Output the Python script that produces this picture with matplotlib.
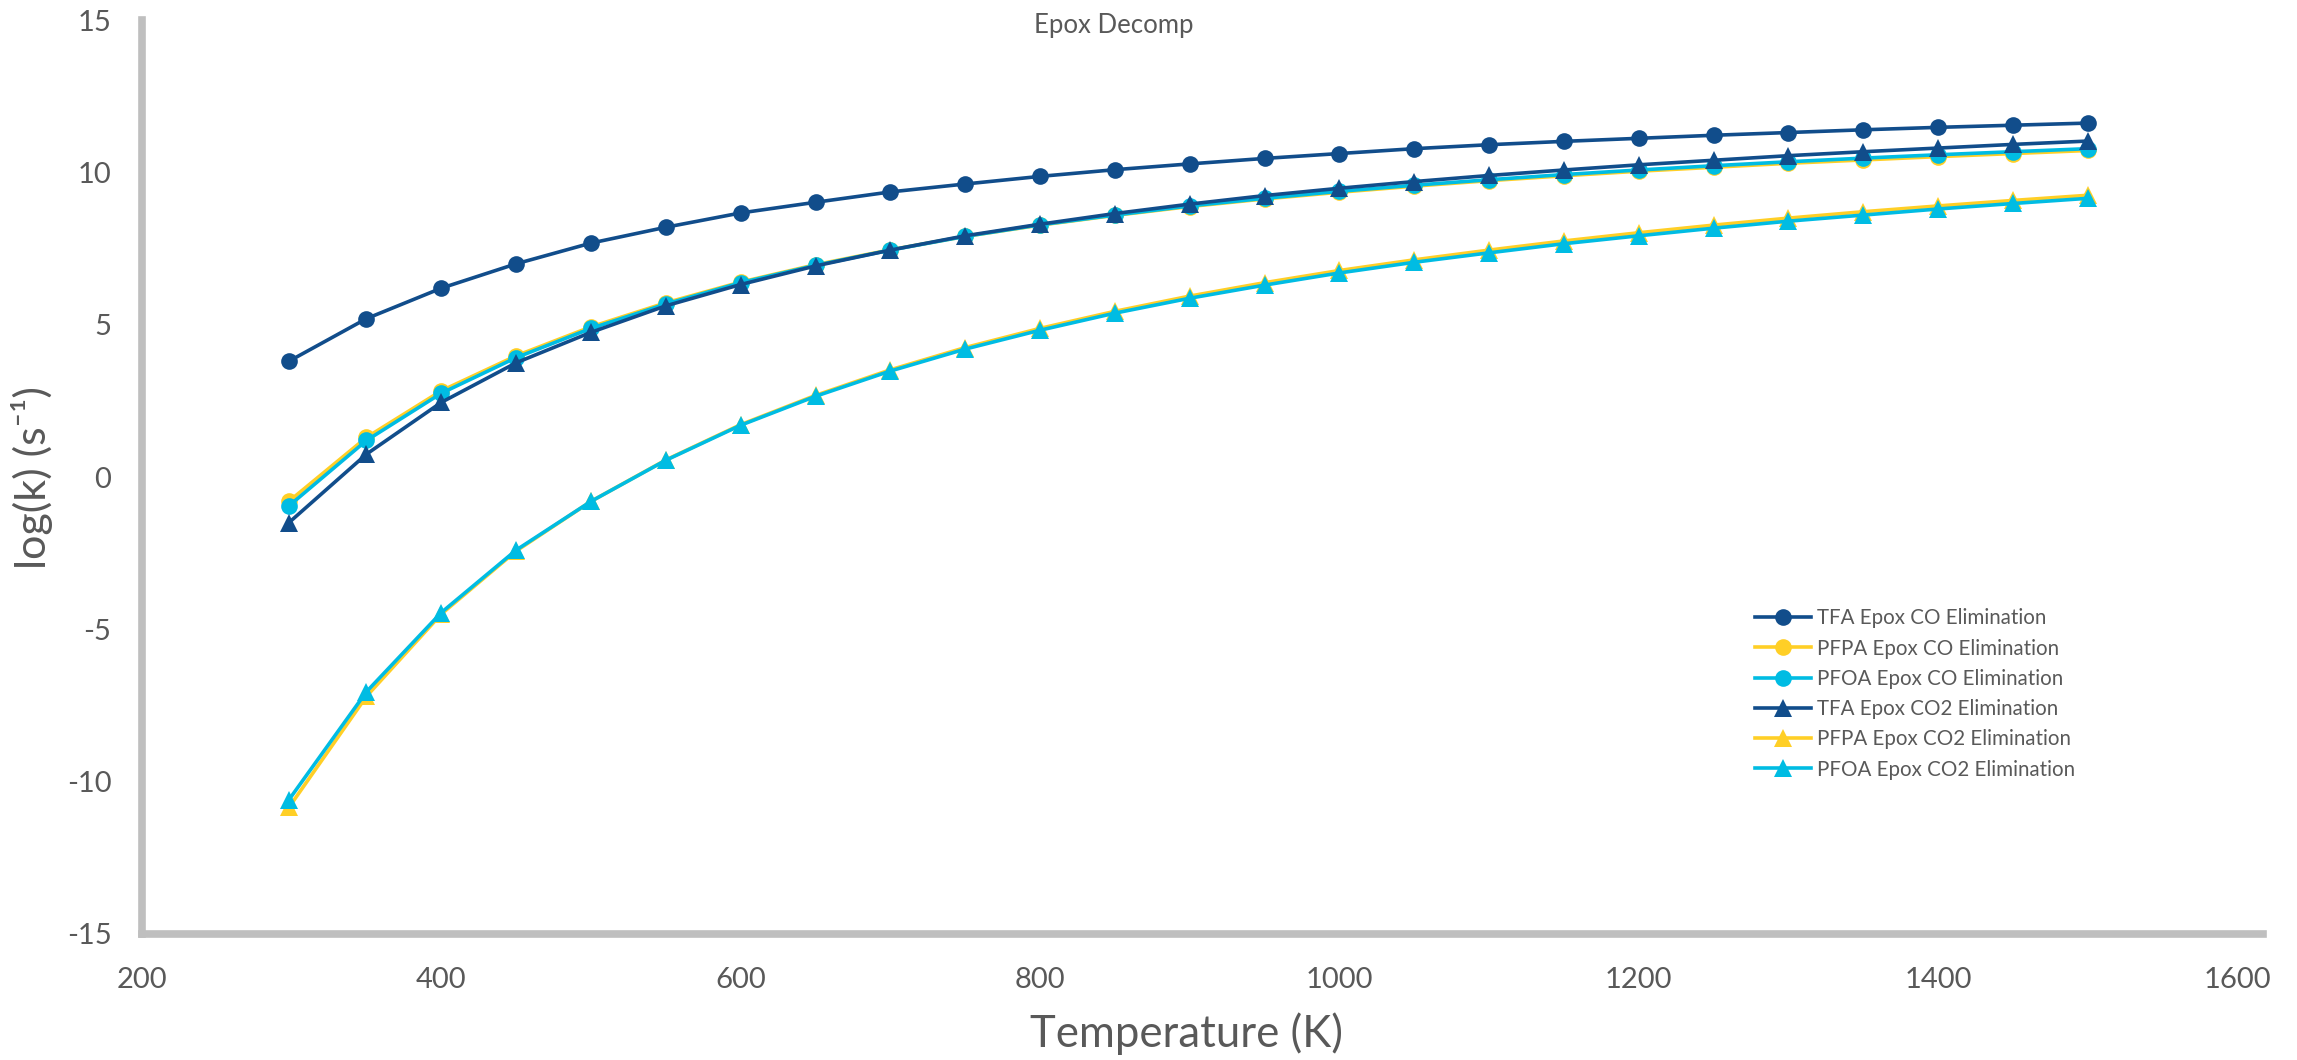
import matplotlib
matplotlib.use("Agg")
import matplotlib.pyplot as plt

# temperatures (K)
temps = [298.15, 350, 400, 450, 500, 550, 600, 650, 700, 750, 800, 850, 900,
         950, 1000, 1050, 1100, 1150, 1200, 1250, 1300, 1350, 1400, 1450, 1500]

# log(k)
tfa_co = [3.8, 5.2, 6.2, 7.0, 7.68, 8.2, 8.67, 9.02, 9.36, 9.62, 9.87, 10.09, 10.28,
          10.46, 10.62, 10.78, 10.91, 11.02, 11.12, 11.22, 11.31, 11.40, 11.48, 11.55, 11.62]
pfpa_co = [-0.8, 1.3, 2.83, 3.98, 4.93, 5.72, 6.4, 6.97, 7.46, 7.9, 8.27, 8.59, 8.88,
           9.13, 9.35, 9.55, 9.73, 9.89, 10.04, 10.17, 10.3, 10.41, 10.52, 10.62, 10.72]
pfoa_co = [-0.95, 1.2, 2.75, 3.92, 4.88, 5.68, 6.38, 6.95, 7.45, 7.9, 8.28, 8.6, 8.9,
           9.15, 9.38, 9.58, 9.76, 9.93, 10.08, 10.22, 10.35, 10.47, 10.58, 10.68, 10.78]
tfa_co2 = [-1.5, 0.75, 2.45, 3.75, 4.75, 5.62, 6.32, 6.93, 7.45, 7.92, 8.3, 8.65, 8.96,
           9.24, 9.48, 9.7, 9.9, 10.08, 10.25, 10.4, 10.55, 10.68, 10.8, 10.92, 11.03]
pfpa_co2 = [-10.85, -7.2, -4.5, -2.43, -0.8, 0.56, 1.72, 2.68, 3.52, 4.25, 4.88, 5.44, 5.94,
            6.38, 6.78, 7.13, 7.45, 7.75, 8.02, 8.27, 8.5, 8.71, 8.9, 9.08, 9.25]
pfoa_co2 = [-10.6, -7.05, -4.45, -2.4, -0.8, 0.55, 1.7, 2.65, 3.48, 4.2, 4.82, 5.38, 5.87,
            6.3, 6.7, 7.05, 7.36, 7.66, 7.92, 8.17, 8.4, 8.6, 8.8, 8.98, 9.15]

labels = ["TFA Epox CO Elimination", "PFPA Epox CO Elimination", "PFOA Epox CO Elimination",
          "TFA Epox CO2 Elimination", "PFPA Epox CO2 Elimination", "PFOA Epox CO2 Elimination"]

dark = "#114D8B"
yellow = "#FFCF26"
cyan = "#00BCE3"
grey_txt = "#595959"

plt.rcParams['font.family'] = ['Lato', 'DejaVu Sans']
plt.rcParams['axes.unicode_minus'] = False

fig = plt.figure(figsize=(22.97, 10.6), dpi=100)
ax = fig.add_axes([0.0618, 0.119, 0.9234, 0.862])

series = [tfa_co, pfpa_co, pfoa_co, tfa_co2, pfpa_co2, pfoa_co2]
colors = [dark, yellow, cyan, dark, yellow, cyan]
markers = ['o', 'o', 'o', '^', '^', '^']
sizes = [12, 12, 12, 13, 13, 13]
for y, c, m, s, lab in zip(series, colors, markers, sizes, labels):
    ax.plot(temps, y, color=c, marker=m, markersize=s, linewidth=2.6, label=lab,
            markeredgewidth=0, solid_joinstyle='round')

ax.set_xlim(200, 1617)
ax.set_ylim(-15, 15)
ax.set_xticks(range(200, 1601, 200))
ax.set_yticks(range(-15, 16, 5))
ax.tick_params(length=0, labelsize=21, labelcolor=grey_txt)
ax.tick_params(axis='x', pad=24)
ax.tick_params(axis='y', pad=22)

for side in ['top', 'right']:
    ax.spines[side].set_visible(False)
for side in ['left', 'bottom']:
    ax.spines[side].set_color("#BFBFBF")
    ax.spines[side].set_linewidth(5.5)

ax_w = 0.9234 * 2297
ax.set_xlabel("Temperature (K)", fontsize=31.5, color=grey_txt)
ax.xaxis.set_label_coords((1187 - 142) / ax_w, (1 - 1034 / 1060 - 0.119) / 0.862)
ax.set_ylabel("log(k) (s\u207b\u00b9)", fontsize=31, color=grey_txt)
ax.yaxis.set_label_coords((32 - 142) / ax_w, (1 - 478 / 1060 - 0.119) / 0.862)
ax.xaxis.label.set_va('center')
ax.yaxis.label.set_va('center')
fig.text(0.485, 0.976, "Epox Decomp", ha='center', va='center', fontsize=18.5, color=grey_txt)

leg = ax.legend(loc='upper left', bbox_to_anchor=(1745 / 2297, 1 - 598 / 1060),
                bbox_transform=fig.transFigure, frameon=False, fontsize=14.8,
                handlelength=2.7, handletextpad=0.3, labelspacing=0.5, borderpad=0)
for t in leg.get_texts():
    t.set_color(grey_txt)

fig.savefig("out.png", dpi=100)
